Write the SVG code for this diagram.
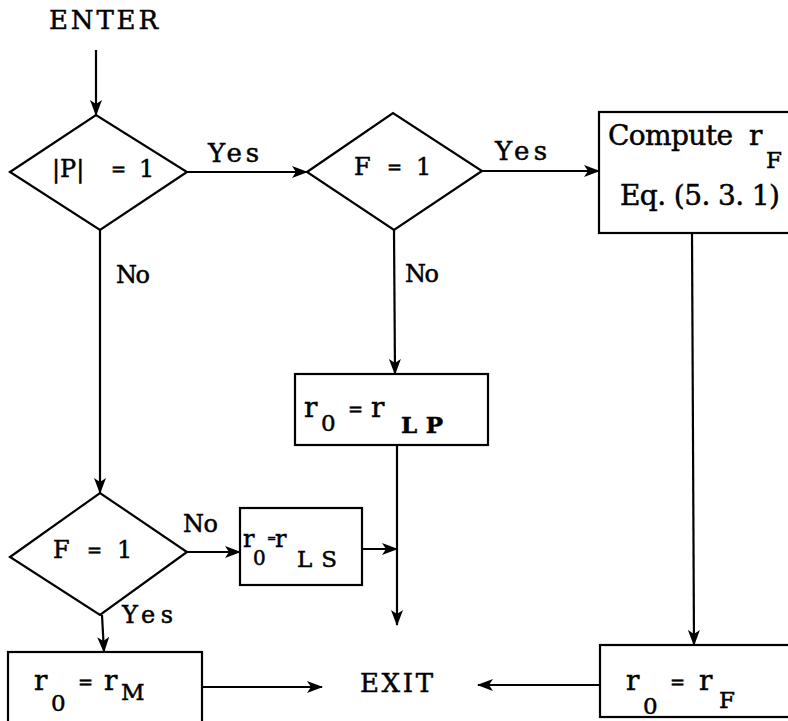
<svg xmlns="http://www.w3.org/2000/svg" width="788" height="721" viewBox="0 0 788 721">
<defs>
<marker id="ah" viewBox="0 0 16 12" refX="15" refY="6" markerWidth="16" markerHeight="12" markerUnits="userSpaceOnUse" orient="auto">
<path d="M0,0 L16,6 L0,12 L4,6 z" fill="#000"/>
</marker>
<style>
.sh{fill:#fff;stroke:#000;stroke-width:2.2}
.ln{fill:none;stroke:#000;stroke-width:2.2;marker-end:url(#ah)}
text{font-family:"DejaVu Serif","Liberation Serif",serif;fill:#000;stroke:#000;stroke-width:0.5}
.lb{font-size:26px}
.dt{font-size:24px}
.bt{font-size:28px}
.sb{font-size:23px}
.eq{font-size:18px}
</style>
</defs>
<rect width="788" height="721" fill="#fff" stroke="none"/>
<g id="connectors">
<line class="ln" x1="96" y1="50" x2="96" y2="115"/>
<line class="ln" x1="187" y1="172" x2="307" y2="172"/>
<line class="ln" x1="482" y1="171" x2="599" y2="171"/>
<line class="ln" x1="100" y1="230" x2="100" y2="493"/>
<line class="ln" x1="394" y1="230" x2="395" y2="374"/>
<line class="ln" x1="692" y1="233" x2="694" y2="645"/>
<line class="ln" x1="187" y1="552" x2="240" y2="552"/>
<line class="ln" x1="102" y1="615" x2="104" y2="652"/>
<line class="ln" x1="362" y1="549" x2="397" y2="549"/>
<line class="ln" x1="397" y1="445" x2="397" y2="625"/>
<line class="ln" x1="202" y1="687" x2="322" y2="687"/>
<line class="ln" x1="600" y1="685" x2="478" y2="685"/>
<text class="lb" x="208" y="162" textLength="51">Yes</text>
<text class="lb" x="495" y="160" textLength="52">Yes</text>
<text class="dt" x="116" y="283" textLength="34">No</text>
<text class="dt" x="405" y="282" textLength="34">No</text>
<text class="dt" x="183" y="532" textLength="35">No</text>
<text class="dt" x="122" y="623" textLength="51">Yes</text>
</g>
<g id="enter"><text class="lb" x="49" y="29" textLength="109">ENTER</text></g>
<g id="d1">
<polygon class="sh" points="10,172 96,115 187,172 100,230"/>
<text class="dt" x="52" y="177">|P|</text>
<text class="eq" x="111" y="176">=</text>
<text class="dt" x="139" y="177">1</text>
</g>
<g id="d2">
<polygon class="sh" points="307,172 393,113 482,171 394,230"/>
<text class="dt" x="354" y="175">F</text>
<text class="eq" x="387" y="174">=</text>
<text class="dt" x="416" y="175">1</text>
</g>
<g id="compute">
<rect class="sh" x="599" y="112" width="200" height="121"/>
<text class="bt" x="608" y="145" textLength="125">Compute</text>
<text class="bt" x="749" y="145">r</text>
<text class="sb" x="766" y="168">F</text>
<text class="bt" x="620" y="205" textLength="160" xml:space="preserve">Eq. (5. 3. 1)</text>
</g>
<g id="rlp">
<rect class="sh" x="295" y="374" width="193" height="71"/>
<text class="bt" x="304" y="417">r</text>
<text class="sb" x="321" y="431">0</text>
<text class="eq" x="348" y="416">=</text>
<text class="bt" x="371" y="417">r</text>
<text class="sb" x="401" y="433" font-weight="bold" textLength="42">LP</text>
</g>
<g id="d3">
<polygon class="sh" points="10,557 100,493 187,552 100,615"/>
<text class="dt" x="53" y="558">F</text>
<text class="eq" x="87" y="557">=</text>
<text class="dt" x="117" y="558">1</text>
</g>
<g id="rls">
<rect class="sh" x="240" y="508" width="122" height="77"/>
<text x="243" y="547" font-size="24">r</text>
<text x="253" y="565" font-size="20">0</text>
<text x="267" y="542" font-size="11">=</text>
<text x="275" y="547" font-size="24">r</text>
<text x="297" y="567" font-size="23" textLength="40">LS</text>
</g>
<g id="rm">
<rect class="sh" x="8" y="652" width="194" height="80"/>
<text class="bt" x="34" y="690">r</text>
<text class="sb" x="51" y="711">0</text>
<text class="eq" x="78" y="689">=</text>
<text class="bt" x="104" y="690">r</text>
<text class="sb" x="121" y="700">M</text>
</g>
<g id="exit"><text class="lb" x="360" y="692" textLength="73">EXIT</text></g>
<g id="rf">
<rect class="sh" x="600" y="645" width="200" height="72"/>
<text class="bt" x="626" y="690">r</text>
<text class="sb" x="643" y="714">0</text>
<text class="eq" x="670" y="689">=</text>
<text class="bt" x="699" y="690">r</text>
<text class="sb" x="719" y="708">F</text>
</g>
</svg>
